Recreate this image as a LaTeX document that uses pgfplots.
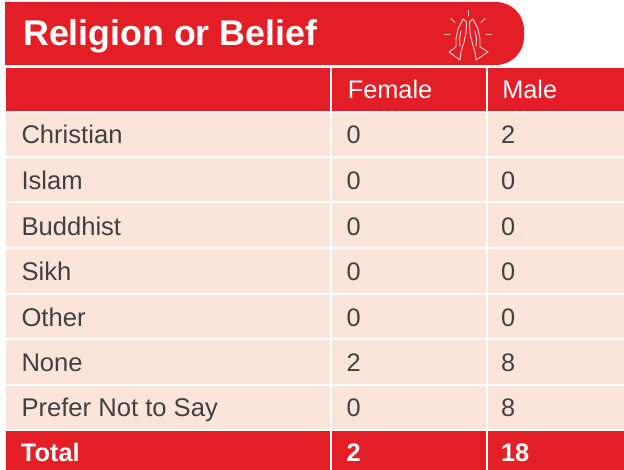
\documentclass[border=0pt]{standalone}
\usepackage{pgfplots}
\pgfplotsset{compat=1.18}
\usepackage{fontspec}
\setmainfont{Liberation Sans}
\definecolor{tred}{HTML}{E31E26}
\definecolor{tpink}{HTML}{FBE5DB}
\definecolor{tgrey}{HTML}{414042}
\begin{document}
\begin{tikzpicture}[x=1pt,y=1pt]
\useasboundingbox (0,0) rectangle (468,352.5);
\begin{axis}[
  at={(0,0)},anchor=south west,
  width=468pt,height=352.5pt,scale only axis,
  xmin=0,xmax=624,ymin=0,ymax=470,y dir=reverse,
  axis lines=none,clip=true,
  nodes near coords style={anchor=base west,inner sep=0pt,outer sep=0pt},
  cell/.style={draw=none,fill=#1,forget plot},
]
% title banner
\fill[tred] (axis cs:5,2) [rounded corners=21pt] -- (axis cs:524,2) -- (axis cs:524,65) [sharp corners] -- (axis cs:5,65) -- cycle;
% header
\addplot[cell=tred] coordinates {(5.5,68)(330,68)(330,111)(5.5,111)} -- cycle;
\addplot[cell=tred] coordinates {(332,68)(485.5,68)(485.5,111)(332,111)} -- cycle;
\addplot[cell=tred] coordinates {(487.5,68)(624,68)(624,111)(487.5,111)} -- cycle;
% body rows
\foreach \a/\b in {113/156,158/201.5,203.5/247,249/292.5,294.5/338,340/383.5,385.5/429}{
  \edef\tmp{\noexpand\addplot[cell=tpink] coordinates {(5.5,\a)(330,\a)(330,\b)(5.5,\b)} -- cycle;
  \noexpand\addplot[cell=tpink] coordinates {(332,\a)(485.5,\a)(485.5,\b)(332,\b)} -- cycle;
  \noexpand\addplot[cell=tpink] coordinates {(487.5,\a)(624,\a)(624,\b)(487.5,\b)} -- cycle;}
  \tmp
}
% total
\addplot[cell=tred] coordinates {(5.5,431)(330,431)(330,470)(5.5,470)} -- cycle;
\addplot[cell=tred] coordinates {(332,431)(485.5,431)(485.5,470)(332,470)} -- cycle;
\addplot[cell=tred] coordinates {(487.5,431)(624,431)(624,470)(487.5,470)} -- cycle;
% title and headers
\node[anchor=base west,inner sep=0pt,text=white,font=\fontsize{26.8}{30}\selectfont\bfseries] at (axis cs:23,45.5) {Religion or Belief};
\node[anchor=base west,inner sep=0pt,text=white,font=\fontsize{19}{22}\selectfont] at (axis cs:347.5,99) {Female};
\node[anchor=base west,inner sep=0pt,text=white,font=\fontsize{19}{22}\selectfont] at (axis cs:502,99) {Male};
% row labels
\addplot[draw=none,mark=none,forget plot,point meta=explicit symbolic,
  nodes near coords,nodes near coords style={text=tgrey,font=\fontsize{19.2}{22}\selectfont}]
  table[meta=label,col sep=comma] {
x,y,label
21.5,144,Christian
21.5,189.5,Islam
21.5,235,Buddhist
21.5,280.5,Sikh
21.5,326,Other
21.5,371.5,None
21.5,416.5,Prefer Not to Say
};
% Female
\addplot[draw=none,mark=none,forget plot,point meta=explicit symbolic,
  nodes near coords,nodes near coords style={text=tgrey,font=\fontsize{19}{22}\selectfont}]
  table[meta=v] {
x y v
346.5 144 0
346.5 189.5 0
346.5 235 0
346.5 280.5 0
346.5 326 0
346.5 371.5 2
346.5 416.5 0
};
% Male
\addplot[draw=none,mark=none,forget plot,point meta=explicit symbolic,
  nodes near coords,nodes near coords style={text=tgrey,font=\fontsize{19}{22}\selectfont}]
  table[meta=v] {
x y v
501 144 2
501 189.5 0
501 235 0
501 280.5 0
501 326 0
501 371.5 8
501 416.5 8
};
% totals
\addplot[draw=none,mark=none,forget plot,point meta=explicit symbolic,
  nodes near coords,nodes near coords style={text=white,font=\fontsize{19}{22}\selectfont\bfseries}]
  table[meta=v] {
x y v
21 461.5 Total
346.5 461.5 2
501 461.5 18
};
% icon
\begin{scope}[draw=white,draw opacity=.8,line width=.7pt,line cap=round,line join=round]
\draw (axis cs:468,10.5) -- (axis cs:468,16);
\draw (axis cs:444.5,34.5) -- (axis cs:450,34.5);
\draw (axis cs:486,34.5) -- (axis cs:491.5,34.5);
\draw (axis cs:451,18.5) -- (axis cs:455,22.5);
\draw (axis cs:485,18.5) -- (axis cs:481,22.5);
\draw (axis cs:463,19) -- (axis cs:458,29) -- (axis cs:456,39) -- (axis cs:456,47) -- (axis cs:449,52) -- (axis cs:460,60) -- (axis cs:461,52) -- (axis cs:464,42) -- (axis cs:466,33) -- (axis cs:466.5,22) -- cycle;
\draw (axis cs:461,31) -- (axis cs:459.5,38) -- (axis cs:460,46);
\draw (axis cs:473,19) -- (axis cs:478,29) -- (axis cs:480,39) -- (axis cs:480,47) -- (axis cs:488,52) -- (axis cs:476,60) -- (axis cs:475,52) -- (axis cs:472,42) -- (axis cs:470,33) -- (axis cs:469.5,22) -- cycle;
\draw (axis cs:475,31) -- (axis cs:476.5,38) -- (axis cs:476,46);
\end{scope}
\end{axis}
\end{tikzpicture}
\end{document}
